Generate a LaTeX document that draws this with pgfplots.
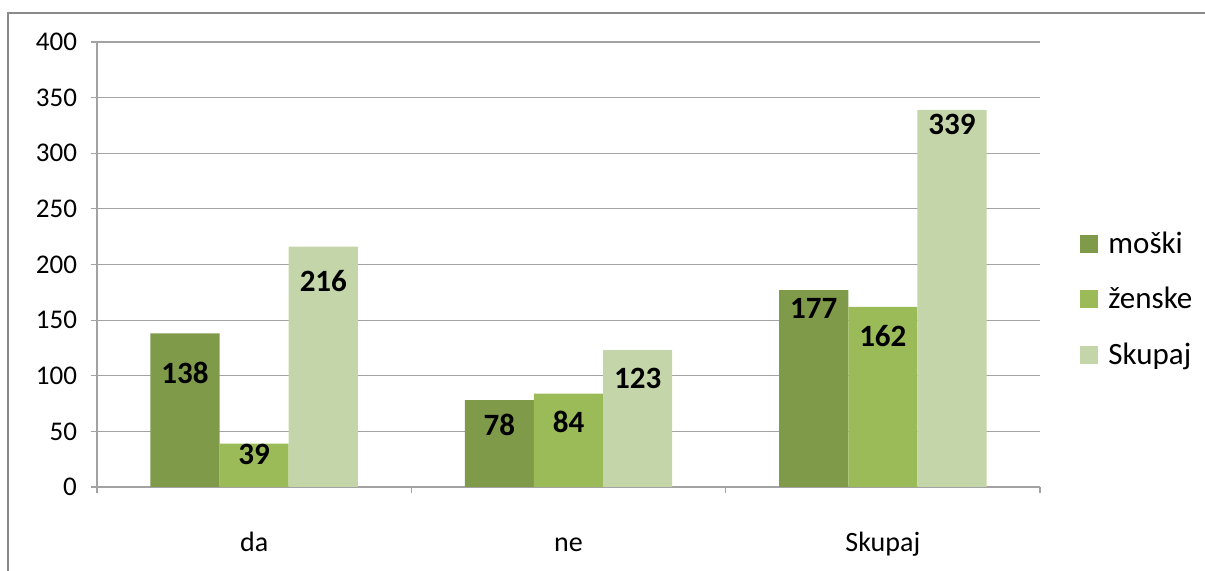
\documentclass[border=0pt]{standalone}
\usepackage{pgfplots}
\pgfplotsset{compat=1.18}
\usepackage{fontspec}
\setmainfont{Carlito}
\definecolor{cA}{HTML}{7F9B49}
\definecolor{cB}{HTML}{9BBB59}
\definecolor{cC}{HTML}{C4D6A9}
\definecolor{gridc}{HTML}{A3A3A3}
\definecolor{framec}{HTML}{8A8A8A}
\pgfplotsset{sq legend/.style={legend image code/.code={\fill[##1] (0pt,-4.5pt) rectangle (9pt,4.5pt);}}}
\begin{document}
\begin{tikzpicture}
\useasboundingbox (0,0) rectangle (602.5pt,285.5pt);
\draw[framec, line width=1pt] (4pt,-5pt) -- (4pt,279pt) -- (610pt,279pt);
\begin{axis}[
  at={(48.5pt,42pt)}, anchor=south west,
  scale only axis, width=471.5pt, height=222.5pt,
  ybar, bar width=0.22,
  xmin=-0.5, xmax=2.5, ymin=0, ymax=400,
  ytick={0,50,...,400},
  xtick={0,1,2}, xticklabels={da,ne,Skupaj},
  minor xtick={-0.5,0.5,1.5,2.5},
  major x tick style={draw=none},
  tick align=outside, major tick length=3pt, minor tick length=3pt,
  axis lines*=left,
  axis line style={gridc, line width=0.6pt},
  ymajorgrids, grid style={gridc, line width=0.6pt},
  tick style={gridc, line width=0.6pt},
  /pgf/number format/assume math mode=true,
  ticklabel style={text=black},
  yticklabel style={font=\fontsize{13.5}{16}\selectfont, xshift=-3.5pt},
  xticklabel style={font=\fontsize{14}{17}\selectfont, anchor=base, yshift=-29.5pt},
  legend style={draw=none, fill=none, at={(1,0.5)}, anchor=west, xshift=20pt, yshift=-17.5pt,
    font=\fontsize{15.5}{18}\selectfont, inner sep=0pt, row sep=11.5pt,
    /tikz/every odd column/.append style={column sep=3pt}},
  legend cell align=left,
]
\addplot[fill=cA, draw=none, bar shift=-0.22, sq legend] coordinates {(0,138) (1,78) (2,177)};
\addlegendentry{moški}
\addplot[fill=cB, draw=none, bar shift=0, sq legend] coordinates {(0,39) (1,84) (2,162)};
\addlegendentry{ženske}
\addplot[fill=cC, draw=none, bar shift=0.22, sq legend] coordinates {(0,216) (1,123) (2,339)};
\addlegendentry{Skupaj}
\pgfplotsset{lbl/.style={draw=none, fill=none, forget plot, nodes near coords, point meta=explicit symbolic,
  every node near coord/.append style={anchor=center, font=\bfseries\fontsize{15.5}{18}\selectfont, text=black}}}
\addplot[lbl, bar shift=-0.22] coordinates {(0,102.5)[138] (1,56.2)[78] (2,160.9)[177]};
\addplot[lbl, bar shift=0] coordinates {(0,29.7)[39] (1,58.9)[84] (2,135.7)[162]};
\addplot[lbl, bar shift=0.22] coordinates {(0,185.2)[216] (1,97.5)[123] (2,326.3)[339]};
\end{axis}
\end{tikzpicture}
\end{document}
